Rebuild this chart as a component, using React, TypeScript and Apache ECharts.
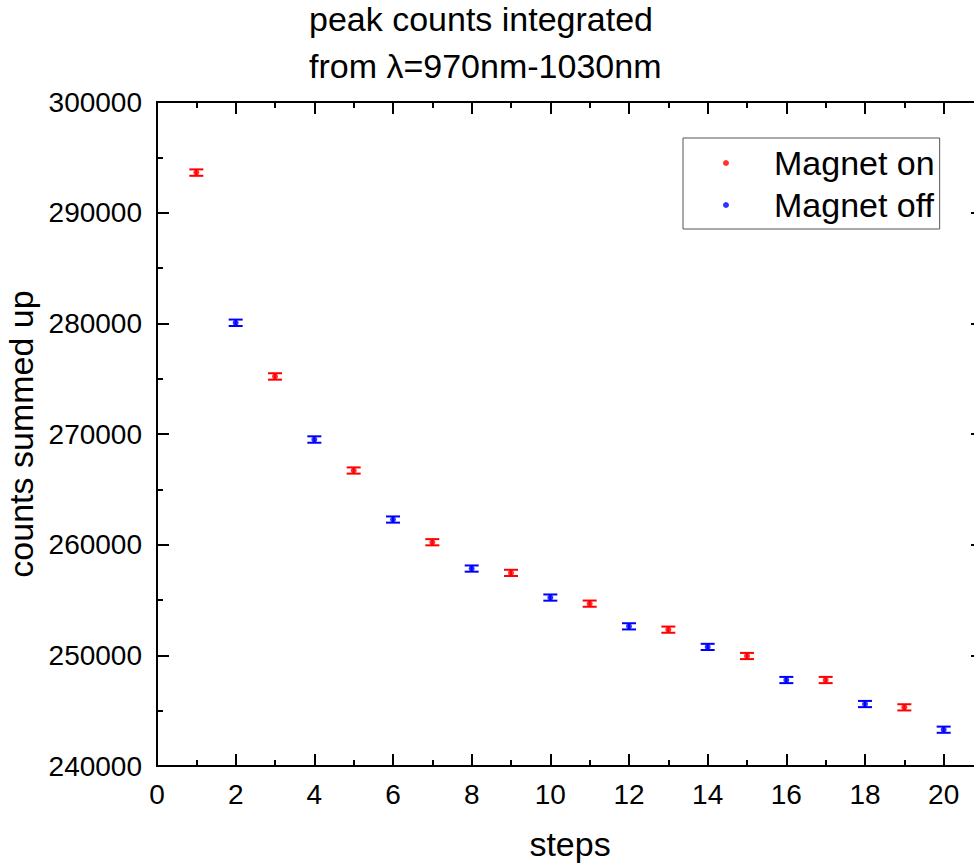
import React, { useEffect, useRef } from "react";
import * as echarts from "echarts";

const stepsOn = [1, 3, 5, 7, 9, 11, 13, 15, 17, 19];
const countsOn = [293620, 275200, 266700, 260220, 257450, 254670, 252320, 249940, 247770, 245300];
const errOn = [290, 290, 280, 280, 280, 280, 280, 280, 280, 280];

const stepsOff = [2, 4, 6, 8, 10, 12, 14, 16, 18, 20];
const countsOff = [280050, 269500, 262270, 257840, 255220, 252620, 250760, 247770, 245600, 243280];
const errOff = [290, 290, 280, 280, 280, 280, 280, 280, 280, 280];

const titleText = "peak counts integrated\nfrom λ=970nm-1030nm";
const FONT = "'Liberation Sans', Arial, sans-serif";

export default function App() {
  const ref = useRef<HTMLDivElement>(null);
  useEffect(() => {
    if (!ref.current) return;
    const chart = echarts.init(ref.current, undefined, { renderer: "svg" });
    const onData = stepsOn.map((s, i) => [s, countsOn[i]]);
    const offData = stepsOff.map((s, i) => [s, countsOff[i]]);
    const onErr = stepsOn.map((s, i) => [s, countsOn[i], errOn[i]]);
    const offErr = stepsOff.map((s, i) => [s, countsOff[i], errOff[i]]);

    const errRender = (color: string) => (params: any, api: any) => {
      const x = api.value(0);
      const y = api.value(1);
      const e = api.value(2);
      const lo = api.coord([x, y - e]);
      const hi = api.coord([x, y + e]);
      const hw = 7;
      const style = { stroke: color, lineWidth: 2 };
      return {
        type: "group",
        children: [
          { type: "line", shape: { x1: lo[0], y1: lo[1], x2: hi[0], y2: hi[1] }, style },
          { type: "line", shape: { x1: lo[0] - hw, y1: lo[1], x2: lo[0] + hw, y2: lo[1] }, style },
          { type: "line", shape: { x1: hi[0] - hw, y1: hi[1], x2: hi[0] + hw, y2: hi[1] }, style },
        ],
      };
    };

    const axisLineStyle = { color: "#000", width: 2 };
    const xCommon = { type: "value", min: 0, max: 21, axisLine: { onZero: false, lineStyle: axisLineStyle }, splitLine: { show: false } };
    const yCommon = {
      type: "value",
      min: 240000,
      max: 300000,
      interval: 10000,
      axisLine: { onZero: false, lineStyle: axisLineStyle },
      splitLine: { show: false },
      axisTick: { inside: true, length: 12, lineStyle: { color: "#000", width: 2 } },
      minorTick: { show: true, splitNumber: 2, length: 6, lineStyle: { color: "#000", width: 2 } },
    };

    chart.setOption({
      animation: false,
      backgroundColor: "#fff",
      textStyle: { fontFamily: FONT },
      title: {
        text: titleText,
        left: 309,
        top: -5,
        padding: 0,
        textStyle: { fontFamily: FONT, fontSize: 34, fontWeight: "normal", color: "#000", lineHeight: 47 },
      },
      legend: {
        data: ["Magnet on", "Magnet off"],
        orient: "vertical",
        left: 683,
        top: 138,
        align: "left",
        padding: [6, 5, 5, 40],
        itemWidth: 48,
        itemHeight: 6,
        itemGap: 4,
        icon: "circle",
        borderColor: "#555",
        borderWidth: 1,
        backgroundColor: "#fff",
        formatter: (name: string) => "{g| }{t|" + name + "}",
        textStyle: {
          fontFamily: FONT,
          fontSize: 34,
          color: "#000",
          lineHeight: 38,
          rich: {
            g: { width: 19, fontSize: 34, lineHeight: 38 },
            t: { fontFamily: FONT, fontSize: 34, color: "#000", lineHeight: 38 },
          },
        },
      },
      grid: { left: 157, right: 17, top: 102, height: 664, outerBoundsMode: "none", containLabel: false },
      xAxis: [
        {
          ...xCommon,
          position: "bottom",
          interval: 2,
          name: "steps",
          nameLocation: "middle",
          nameGap: 61,
          nameTextStyle: { fontFamily: FONT, fontSize: 34, color: "#000" },
          axisTick: { inside: true, length: 12, lineStyle: { color: "#000", width: 2 } },
          axisLabel: { color: "#000", fontSize: 28, fontFamily: FONT, margin: 14, showMaxLabel: false },
        },
        {
          ...xCommon,
          position: "bottom",
          interval: 1,
          axisTick: { inside: true, length: 6, lineStyle: { color: "#000", width: 2 } },
          axisLabel: { show: false },
        },
        {
          ...xCommon,
          position: "top",
          interval: 2,
          axisTick: { inside: true, length: 12, lineStyle: { color: "#000", width: 2 } },
          axisLabel: { show: false },
        },
        {
          ...xCommon,
          position: "top",
          interval: 1,
          axisTick: { inside: true, length: 6, lineStyle: { color: "#000", width: 2 } },
          axisLabel: { show: false },
        },
      ],
      yAxis: [
        {
          ...yCommon,
          position: "left",
          name: "counts summed up",
          nameLocation: "middle",
          nameGap: 113,
          nameRotate: 90,
          nameTextStyle: { fontFamily: FONT, fontSize: 34, color: "#000" },
          axisLabel: { color: "#000", fontSize: 28, fontFamily: FONT, margin: 15, formatter: (v: number) => String(v) },
        },
        {
          ...yCommon,
          position: "right",
          axisLabel: { show: false },
        },
      ],
      series: [
        {
          name: "Magnet on err",
          type: "custom",
          renderItem: errRender("#ff0000"),
          data: onErr,
          encode: { x: 0, y: 1 },
          z: 2,
        },
        {
          name: "Magnet off err",
          type: "custom",
          renderItem: errRender("#0000ff"),
          data: offErr,
          encode: { x: 0, y: 1 },
          z: 2,
        },
        {
          name: "Magnet on",
          type: "scatter",
          data: onData,
          symbol: "circle",
          symbolSize: 6,
          itemStyle: { color: "#ff0000" },
          z: 3,
        },
        {
          name: "Magnet off",
          type: "scatter",
          data: offData,
          symbol: "circle",
          symbolSize: 6,
          itemStyle: { color: "#0000ff" },
          z: 3,
        },
      ],
    });
    return () => chart.dispose();
  }, []);

  return (
    <div style={{ position: "fixed", left: 0, top: 0, width: 974, height: 864, overflow: "hidden", background: "#fff" }}>
      <div ref={ref} style={{ width: 1000, height: 864 }} />
    </div>
  );
}
